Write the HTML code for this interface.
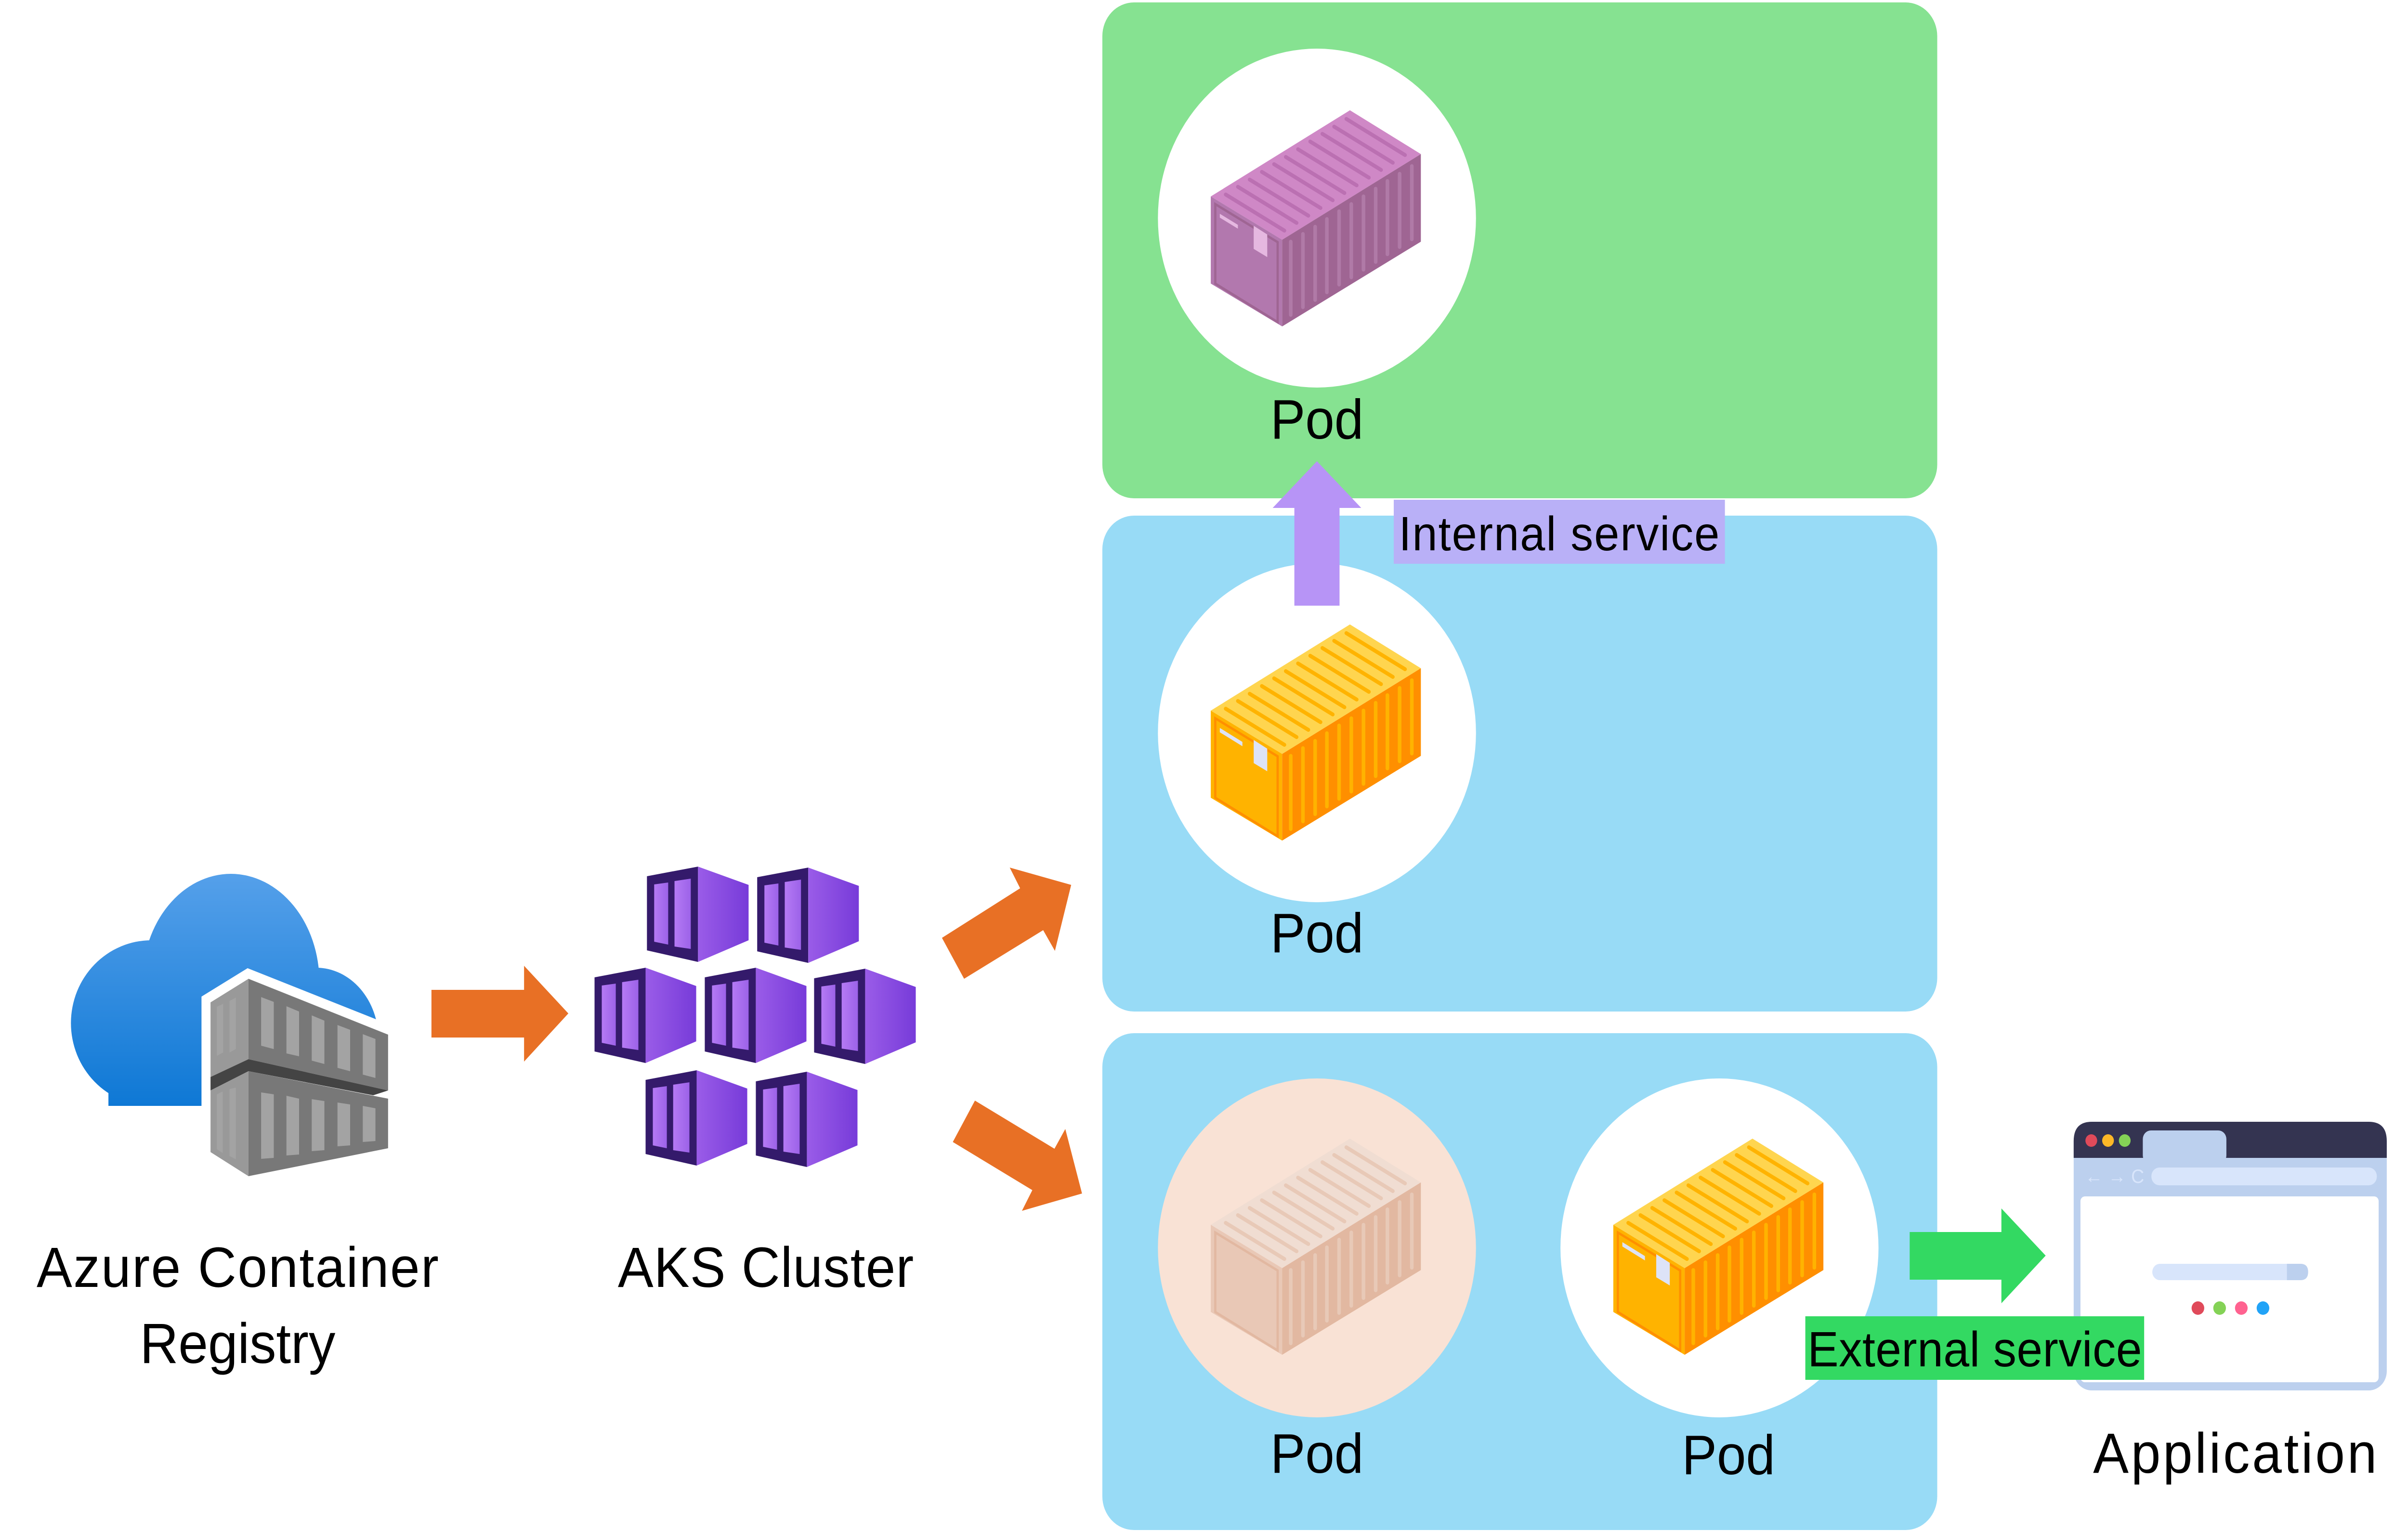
<!DOCTYPE html>
<html><head><meta charset="utf-8"><style>
html,body{margin:0;padding:0;background:#fff;overflow:hidden;width:100%;height:100%;}
svg{display:block;position:absolute;left:0;top:0;width:100vw;height:100vh;}
text{font-family:"Liberation Sans",sans-serif;fill:#000;}
</style></head><body>
<svg viewBox="0 0 5330 3180" preserveAspectRatio="none" xmlns="http://www.w3.org/2000/svg">
<defs>
<linearGradient id="cloudG" gradientUnits="userSpaceOnUse" x1="0" y1="1815" x2="0" y2="2298"><stop offset="0" stop-color="#55a0ea"/><stop offset="1" stop-color="#0e78d5"/></linearGradient>
<linearGradient id="cubeR" x1="0" y1="0" x2="1" y2="0"><stop offset="0" stop-color="#9a5ce8"/><stop offset="1" stop-color="#773bd9"/></linearGradient>
<linearGradient id="cubeB" x1="0" y1="0" x2="1" y2="0"><stop offset="0" stop-color="#b57af5"/><stop offset="1" stop-color="#9c62e8"/></linearGradient>
<g id="cube">
<polygon points="0,20 113,0 113,198 0,174" fill="#341a6b"/>
<polygon points="113,0 225,38 225,153 113,198" fill="url(#cubeR)"/>
<polygon points="16,37 47,33 47,162 16,156" fill="url(#cubeB)"/>
<polygon points="61,30 97,25 97,171 61,166" fill="url(#cubeB)"/>
</g>
<g id="stripesTop">
<line x1="33" y1="175" x2="163" y2="250"/><line x1="60" y1="159" x2="190" y2="234"/><line x1="86" y1="144" x2="216" y2="219"/><line x1="113" y1="128" x2="243" y2="203"/><line x1="140" y1="112" x2="270" y2="187"/><line x1="166" y1="97" x2="296" y2="172"/><line x1="193" y1="81" x2="323" y2="156"/><line x1="220" y1="65" x2="350" y2="140"/><line x1="247" y1="49" x2="377" y2="124"/><line x1="273" y1="34" x2="403" y2="109"/><line x1="300" y1="18" x2="430" y2="93"/>
</g>
<g id="stripesSide">
<line x1="177" y1="273" x2="177" y2="425"/><line x1="204" y1="257" x2="204" y2="409"/><line x1="231" y1="242" x2="231" y2="394"/><line x1="257" y1="226" x2="257" y2="378"/><line x1="284" y1="210" x2="284" y2="362"/><line x1="311" y1="195" x2="311" y2="347"/><line x1="338" y1="179" x2="338" y2="331"/><line x1="365" y1="163" x2="365" y2="315"/><line x1="391" y1="147" x2="391" y2="299"/><line x1="418" y1="132" x2="418" y2="284"/><line x1="445" y1="116" x2="445" y2="268"/>
</g>
<g id="ctrO">
<polygon points="0,179 308,0 465,91 158,269" fill="#ffd54f"/>
<polygon points="0,179 158,269 158,449 0,360" fill="#ffb300"/>
<polygon points="158,269 465,91 465,273 158,449" fill="#ff8f00"/>
<g stroke="#ffb300" stroke-width="8" stroke-linecap="round"><use href="#stripesTop"/><use href="#stripesSide"/></g>
<polygon points="10,195 148,274 148,440 10,360" fill="none" stroke="#ff8f00" stroke-width="5"/>
<polygon points="20,215 70,244 70,253 20,224" fill="#dde3f7"/>
<polygon points="95,240 125,258 125,305 95,288" fill="#dde3f7"/>
</g>
</defs>

<rect x="2440" y="5" width="1848" height="1030" rx="70" fill="#86e291"/>
<rect x="2440" y="1071" width="1848" height="1030" rx="70" fill="#98dbf6"/>
<rect x="2440" y="2146" width="1848" height="1032" rx="70" fill="#98dbf6"/>

<circle cx="2915" cy="453" r="352" fill="#fff"/>
<circle cx="2915" cy="1522" r="352" fill="#fff"/>
<circle cx="2915" cy="2592" r="352" fill="#f9e2d5"/>
<circle cx="3806" cy="2592" r="352" fill="#fff"/>

<g transform="translate(2680,229)">
<polygon points="0,179 308,0 465,91 158,269" fill="#cf88c6"/>
<polygon points="0,179 158,269 158,449 0,360" fill="#b278ae"/>
<polygon points="158,269 465,91 465,273 158,449" fill="#9f6593"/>
<g stroke="#bb70b2" stroke-width="8" stroke-linecap="round"><use href="#stripesTop"/></g>
<g stroke="#b07aa7" stroke-width="8" stroke-linecap="round"><use href="#stripesSide"/></g>
<polygon points="10,195 148,274 148,440 10,360" fill="none" stroke="#9f6593" stroke-width="5"/>
<polygon points="20,215 60,238 60,246 20,223" fill="#e5b8e0"/>
<polygon points="95,240 125,258 125,305 95,288" fill="#e5b8e0"/>
</g>

<use href="#ctrO" x="2680" y="1297"/>

<g transform="translate(2680,2365)">
<polygon points="0,179 308,0 465,91 158,269" fill="#f0ddd2"/>
<polygon points="0,179 158,269 158,449 0,360" fill="#e9c8b6"/>
<polygon points="158,269 465,91 465,273 158,449" fill="#e2b8a1"/>
<g stroke="#e8c9b7" stroke-width="8" stroke-linecap="round"><use href="#stripesTop"/><use href="#stripesSide"/></g>
<polygon points="10,195 148,274 148,440 10,360" fill="none" stroke="#e2b8a1" stroke-width="5"/>
</g>

<use href="#ctrO" x="3571" y="2365"/>

<g fill="url(#cloudG)">
<ellipse cx="511" cy="2040" rx="196" ry="225"/>
<ellipse cx="335" cy="2125" rx="178" ry="172"/>
<ellipse cx="700" cy="2160" rx="138" ry="150"/>
<rect x="240" y="2100" width="500" height="197"/>
</g>
<polygon points="446,2070 548,2011 840,2120 880,2300 880,2460 446,2460" fill="#fff"/>
<polygon points="466,2082 550,2033 550,2200 466,2237" fill="#999"/>
<polygon points="550,2033 859,2149 859,2265 550,2200" fill="#787878"/>
<polygon points="466,2237 550,2200 859,2265 826,2275 550,2225 466,2265" fill="#444"/>
<polygon points="466,2265 550,2225 550,2443 466,2393" fill="#999"/>
<polygon points="550,2225 859,2282 859,2385 550,2443" fill="#787878"/>
<g fill="#a3a3a3">
<polygon points="480,2091 494,2085 494,2186 480,2193"/><polygon points="508,2079 522,2072 522,2179 508,2186"/>
<polygon points="578,2071 606,2081 606,2179 578,2172"/><polygon points="634,2090 662,2101 662,2194 634,2188"/><polygon points="690,2109 718,2120 718,2210 690,2203"/><polygon points="747,2129 775,2139 775,2225 747,2218"/><polygon points="803,2148 831,2158 831,2239 803,2232"/>
<polygon points="480,2273 493,2267 493,2395 480,2387"/><polygon points="508,2262 522,2259 522,2408 508,2401"/>
<polygon points="578,2269 606,2273 606,2405 578,2407"/><polygon points="634,2276 662,2282 662,2398 634,2400"/><polygon points="690,2283 718,2287 718,2389 690,2391"/><polygon points="747,2290 775,2294 775,2379 747,2381"/><polygon points="803,2297 831,2302 831,2370 803,2372"/>
</g>

<polygon points="955,2056 1160,2056 1160,2006 1258,2105 1160,2205 1160,2155 955,2155" fill="#e87025"/>
<polygon points="2085,1948 2258,1845 2235,1802 2371,1838 2335,1975 2309,1932 2134,2033" fill="#e87025"/>
<polygon points="2158,2286 2334,2386 2358,2345 2395,2479 2262,2515 2285,2472 2109,2372" fill="#e87025"/>

<use href="#cube" x="1432" y="1800"/>
<use href="#cube" x="1676" y="1802"/>
<use href="#cube" x="1316" y="2010"/>
<use href="#cube" x="1560" y="2010"/>
<use href="#cube" x="1802" y="2012"/>
<use href="#cube" x="1429" y="2223"/>
<use href="#cube" x="1673" y="2226"/>

<polygon points="2865,1258 2865,1055 2817,1055 2915,958 3013,1055 2965,1055 2965,1258" fill="#b794f6"/>
<rect x="3085" y="1038" width="733" height="133" fill="#b9b0f7"/>
<text x="3451" y="1143" font-size="100" text-anchor="middle" textLength="710">Internal service</text>

<rect x="4590" y="2330" width="693" height="558" rx="40" fill="#bcd0ee"/>
<path d="M4590,2405 V2370 Q4590,2330 4630,2330 H5243 Q5283,2330 5283,2370 V2405 Z" fill="#343451"/>
<rect x="4743" y="2348" width="185" height="70" rx="18" fill="#bcd0ee"/>
<circle cx="4629" cy="2369" r="13" fill="#e04a5a"/>
<circle cx="4666" cy="2369" r="13" fill="#fdb827"/>
<circle cx="4703" cy="2369" r="13" fill="#84d256"/>
<rect x="4762" y="2425" width="499" height="37" rx="18" fill="#d8e5fb"/>
<text x="4615" y="2457" font-size="40" style="fill:#d8e5fb">← → C</text>
<rect x="4605" y="2485" width="660" height="386" rx="10" fill="#fff"/>
<rect x="4764" y="2625" width="345" height="34" rx="17" fill="#d8e5fb"/>
<path d="M5062,2625 H5092 Q5109,2625 5109,2642 Q5109,2659 5092,2659 H5062 Z" fill="#bcd0ee"/>
<circle cx="4865" cy="2717" r="14" fill="#e04a5a"/>
<circle cx="4913" cy="2717" r="14" fill="#84d256"/>
<circle cx="4961" cy="2717" r="14" fill="#ff6290"/>
<circle cx="5009" cy="2717" r="14" fill="#21a3f7"/>

<polygon points="4227,2559 4430,2559 4430,2510 4528,2608 4430,2707 4430,2658 4227,2658" fill="#33d962"/>
<rect x="3996" y="2734" width="750" height="132" fill="#33d962"/>
<text x="4371" y="2838" font-size="103" text-anchor="middle" textLength="740">External service</text>

<text x="526" y="2673" font-size="118" text-anchor="middle" textLength="890">Azure Container</text>
<text x="526" y="2831" font-size="118" text-anchor="middle">Registry</text>
<text x="1695" y="2673" font-size="118" text-anchor="middle" textLength="655">AKS Cluster</text>
<text x="2915" y="911" font-size="116" text-anchor="middle">Pod</text>
<text x="2915" y="1978" font-size="116" text-anchor="middle">Pod</text>
<text x="2915" y="3059" font-size="116" text-anchor="middle">Pod</text>
<text x="3826" y="3062" font-size="116" text-anchor="middle">Pod</text>
<text x="4947" y="3059" font-size="118" text-anchor="middle" textLength="628">Application</text>
</svg>
</body></html>
